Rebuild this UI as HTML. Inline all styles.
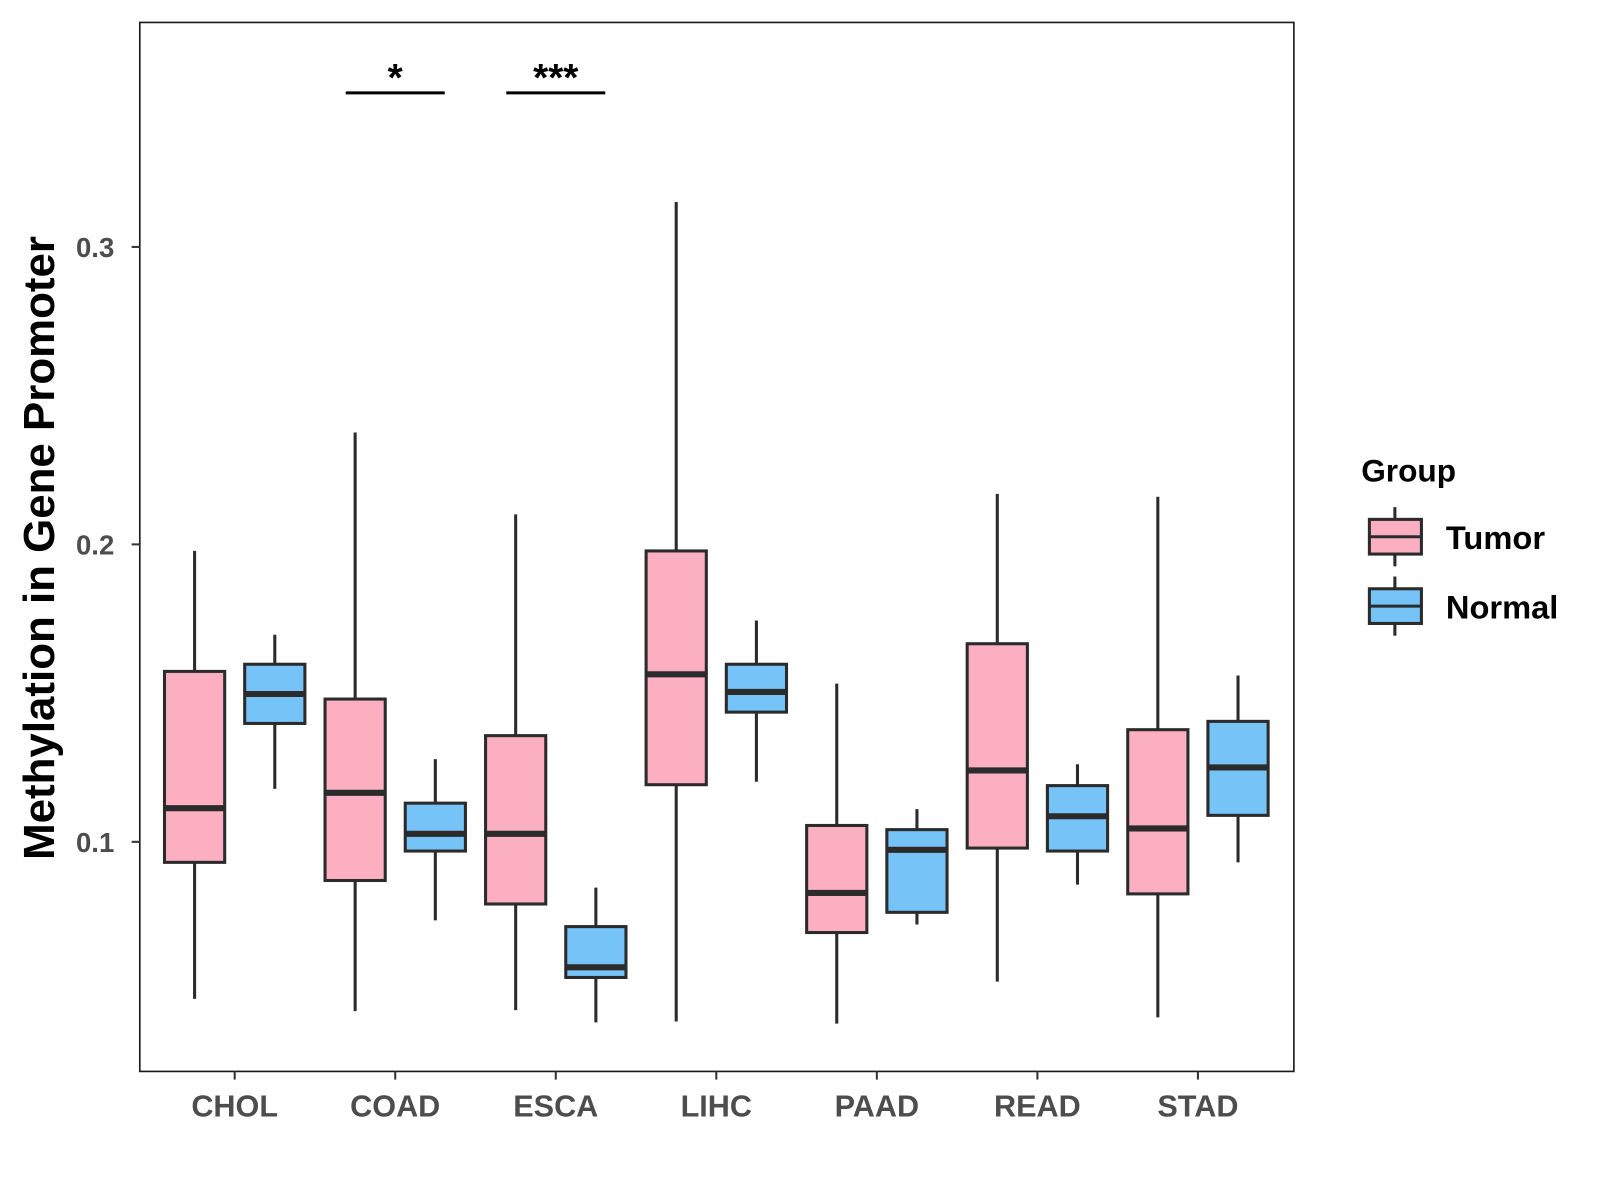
<!DOCTYPE html>
<html><head><meta charset="utf-8"><style>
body{margin:0;background:#fff}
svg{display:block;font-family:"Liberation Sans",Arial,sans-serif}
</style></head><body>
<svg id="chart" width="1600" height="1200" viewBox="0 0 1600 1200">
<rect x="0" y="0" width="1600" height="1200" fill="#fff"/>
<g transform="scale(1.0204)">
<rect x="137" y="22" width="1131" height="1028" fill="#fff" stroke="#1a1a1a" stroke-width="1.6"/>
<g id="marks"></g>
<g id="axes"></g>
<text transform="translate(53,537) rotate(-90)" text-anchor="middle" font-size="43" font-weight="bold" fill="#000">Methylation in Gene Promoter</text>
<g>
<text x="1334" y="472" font-size="31" font-weight="bold" fill="#000">Group</text>
<g>
<line x1="1367" y1="497" x2="1367" y2="555" stroke="#2b2b2b" stroke-width="3"/>
<rect x="1342" y="509" width="51" height="34" fill="#fbafc1" stroke="#2b2b2b" stroke-width="3"/>
<line x1="1342" y1="526" x2="1393" y2="526" stroke="#2b2b2b" stroke-width="3"/>
<text x="1417" y="538" font-size="32" font-weight="bold" fill="#000">Tumor</text>
</g>
<g>
<line x1="1367" y1="565" x2="1367" y2="623" stroke="#2b2b2b" stroke-width="3"/>
<rect x="1342" y="577" width="51" height="34" fill="#76c3f7" stroke="#2b2b2b" stroke-width="3"/>
<line x1="1342" y1="594" x2="1393" y2="594" stroke="#2b2b2b" stroke-width="3"/>
<text x="1417" y="606" font-size="32" font-weight="bold" fill="#000">Normal</text>
</g>
</g>
</g>
</svg>
<script>
const categories=["CHOL","COAD","ESCA","LIHC","PAAD","READ","STAD"];
const tumorLow=[0.0472,0.0431,0.0434,0.0396,0.0389,0.0530,0.0410];
const tumorQ1=[0.0931,0.0870,0.0791,0.1192,0.0695,0.0979,0.0825];
const tumorMed=[0.1113,0.1165,0.1027,0.1563,0.0828,0.1240,0.1045];
const tumorQ3=[0.1573,0.1480,0.1357,0.1978,0.1055,0.1666,0.1377];
const tumorHigh=[0.1978,0.2376,0.2101,0.3151,0.1532,0.2170,0.2160];
const normalLow=[0.1178,0.0736,0.0393,0.1202,0.0722,0.0856,0.0931];
const normalQ1=[0.1398,0.0969,0.0544,0.1436,0.0763,0.0969,0.1089];
const normalMed=[0.1497,0.1027,0.0578,0.1504,0.0973,0.1086,0.1250];
const normalQ3=[0.1597,0.1130,0.0715,0.1597,0.1041,0.1189,0.1405];
const normalHigh=[0.1696,0.1278,0.0846,0.1744,0.1110,0.1261,0.1559];
const yTicks=[0.1,0.2,0.3];
const yTickLabels=["0.1","0.2","0.3"];
const sigCategories=["COAD","ESCA"];
const sigLabels=["*","***"];
const sigValue=0.3518;

const NS="http://www.w3.org/2000/svg";
const y=v=>825-(v-0.1)*2915;
const x=i=>230+i*157.33;
function mk(tag,attrs,parent){const e=document.createElementNS(NS,tag);for(const k in attrs)e.setAttribute(k,attrs[k]);parent.appendChild(e);return e;}
const marks=document.getElementById('marks'),axes=document.getElementById('axes');
const groups=[
 {name:'tumor',off:-39.3,fill:'#fbafc1',lo:tumorLow,q1:tumorQ1,md:tumorMed,q3:tumorQ3,hi:tumorHigh},
 {name:'normal',off:39.3,fill:'#76c3f7',lo:normalLow,q1:normalQ1,md:normalMed,q3:normalQ3,hi:normalHigh}];
categories.forEach((c,i)=>{
 groups.forEach(g=>{
  const cx=x(i)+g.off,w=59;
  const grp=mk('g',{},marks);
  
  
  mk('line',{x1:cx,x2:cx,y1:y(g.hi[i]),y2:y(g.lo[i]),stroke:'#2b2b2b','stroke-width':3},grp);
  mk('rect',{x:cx-w/2,y:y(g.q3[i]),width:w,height:y(g.q1[i])-y(g.q3[i]),fill:g.fill,stroke:'#2b2b2b','stroke-width':3},grp);
  mk('line',{x1:cx-w/2,x2:cx+w/2,y1:y(g.md[i]),y2:y(g.md[i]),stroke:'#2b2b2b','stroke-width':6},grp);
 });
 mk('line',{x1:x(i),x2:x(i),y1:1050,y2:1058,stroke:'#333','stroke-width':2},axes);
 const t=mk('text',{x:x(i),y:1094,'text-anchor':'middle','font-size':30,'font-weight':'bold',fill:'#4d4d4d'},axes);
 t.textContent=c;
 
 
});
yTicks.forEach((v,k)=>{
 mk('line',{x1:129,x2:137,y1:y(v),y2:y(v),stroke:'#333','stroke-width':2},axes);
 const t=mk('text',{x:112,y:y(v)+10,'text-anchor':'end','font-size':27,'font-weight':'bold',fill:'#4d4d4d'},axes);
 t.textContent=yTickLabels[k];
 
 
});
sigCategories.forEach((c,k)=>{
 const i=categories.indexOf(c);
 const g=mk('g',{},marks);
 
 
 mk('line',{x1:x(i)-48.5,x2:x(i)+48.5,y1:y(sigValue),y2:y(sigValue),stroke:'#000','stroke-width':3},g);
 const t=mk('text',{x:x(i),y:y(sigValue)-2,'text-anchor':'middle','font-size':38,'font-weight':'bold',fill:'#000'},g);
 t.textContent=sigLabels[k];
});
</script>
</body></html>
